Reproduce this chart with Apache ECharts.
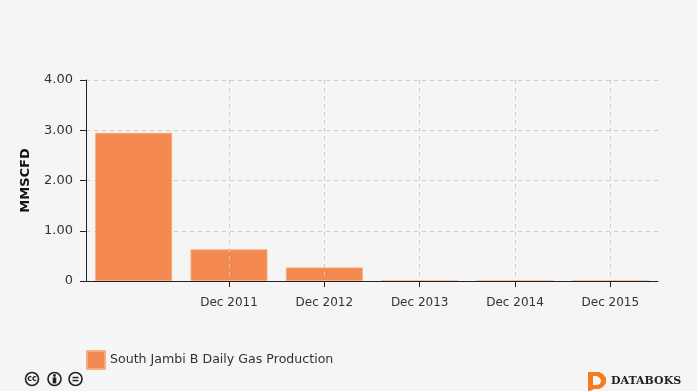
<!DOCTYPE html>
<html>
<head>
<meta charset="utf-8">
<style>
  html, body { margin: 0; padding: 0; background: #f5f5f5; }
  #chart { width: 697px; height: 391px; }
</style>
</head>
<body>
<div id="chart"></div>
<script src="https://cdn.jsdelivr.net/npm/echarts@6/dist/echarts.min.js"></script>
<script>
const categories = ["", "Dec 2011", "Dec 2012", "Dec 2013", "Dec 2014", "Dec 2015"];
const gasProduction = [2.95, 0.63, 0.27, 0, 0, 0];
const seriesName = "South Jambi B Daily Gas Production";
const yTickLabels = ["0", "1.00", "2.00", "3.00", "4.00"];

const font = "'DejaVu Sans', sans-serif";
// the first category has no label, tick or grid line
const skipFirst = (index) => index > 0;

// small cc badge, drawn as a ring with text inside
function badge(cx, cy, inner) {
  return [
    { type: "circle", shape: { cx, cy, r: 6.5 }, style: { fill: "none", stroke: "#222", lineWidth: 1.6 } }
  ].concat(inner);
}

const chart = echarts.init(document.getElementById("chart"));
chart.setOption({
  backgroundColor: "#f5f5f5",
  animation: false,
  textStyle: { fontFamily: font },
  grid: { left: 86, right: 39, top: 80, bottom: 110 },
  legend: {
    left: 86,
    top: 350,
    padding: 0,
    itemWidth: 18,
    itemHeight: 18,
    itemGap: 5,
    icon: "rect",
    textStyle: { color: "#333", fontSize: 12.6, fontFamily: font },
    data: [seriesName]
  },
  xAxis: {
    type: "category",
    data: categories,
    z: 3,
    axisLine: { onZero: false, lineStyle: { color: "#222", width: 1 } },
    axisTick: { show: true, alignWithLabel: true, length: 6, interval: skipFirst, lineStyle: { color: "#222" } },
    axisLabel: { color: "#333", fontSize: 12, margin: 16, interval: 0, fontFamily: font },
    splitLine: {
      show: true,
      alignWithLabel: true,
      interval: skipFirst,
      lineStyle: { color: "#ccc", type: [4, 4], width: 1 }
    }
  },
  yAxis: {
    type: "value",
    min: 0,
    max: 4,
    interval: 1,
    name: "MMSCFD",
    nameLocation: "middle",
    nameGap: 54,
    nameTextStyle: { color: "#111", fontSize: 13, fontWeight: "bold", fontFamily: font },
    axisLine: { show: true, lineStyle: { color: "#222", width: 1 } },
    axisTick: { show: true, length: 6, lineStyle: { color: "#222" } },
    axisLabel: {
      color: "#333",
      fontSize: 13,
      margin: 13,
      padding: [2, 0, 0, 0],
      fontFamily: font,
      formatter: (v) => yTickLabels[v]
    },
    splitLine: { show: true, lineStyle: { color: "#ccc", type: [4, 4], width: 1 } }
  },
  series: [
    {
      name: seriesName,
      type: "bar",
      data: gasProduction,
      barWidth: 77,
      itemStyle: {
        color: "rgba(243,125,60,0.9)",
        borderColor: "rgba(248,170,125,0.9)",
        borderWidth: 1
      }
    }
  ],
  graphic: [
    ...badge(32, 379, [
      { type: "text", x: 32, y: 379, style: { text: "cc", fill: "#222", font: "bold 8px " + font, align: "center", verticalAlign: "middle" } }
    ]),
    ...badge(54.5, 379, [
      { type: "circle", shape: { cx: 54.5, cy: 375.5, r: 1.4 }, style: { fill: "#222" } },
      { type: "rect", shape: { x: 52.7, y: 377.4, width: 3.6, height: 6 }, style: { fill: "#222" } }
    ]),
    ...badge(75.5, 379, [
      { type: "rect", shape: { x: 72.5, y: 376.8, width: 6, height: 1.5 }, style: { fill: "#222" } },
      { type: "rect", shape: { x: 72.5, y: 379.8, width: 6, height: 1.5 }, style: { fill: "#222" } }
    ]),
    // databoks logo
    {
      type: "polygon",
      shape: { points: [[588, 372], [599, 372], [603, 374], [606, 378], [606, 383], [603, 387], [599, 389], [594, 389], [590, 391], [588, 391]] },
      style: { fill: "#f47b20" }
    },
    {
      type: "polygon",
      shape: { points: [[593, 376], [597, 376], [600, 378], [601, 381], [600, 384], [597, 385], [593, 385]] },
      style: { fill: "#f5f5f5" }
    },
    {
      type: "text",
      x: 611,
      y: 381,
      style: { text: "DATABOKS", fill: "#222", font: "bold 11px 'DejaVu Serif', serif", verticalAlign: "middle" }
    }
  ]
});
</script>
</body>
</html>
